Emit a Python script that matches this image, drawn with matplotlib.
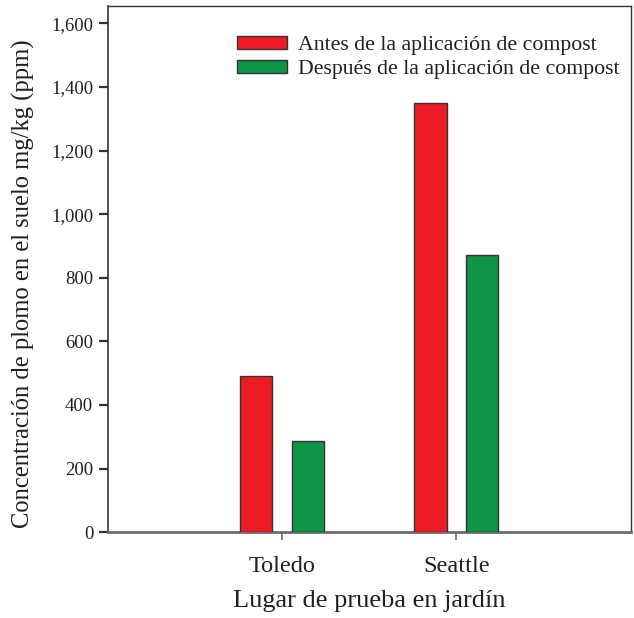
import numpy as np
import matplotlib
matplotlib.use("Agg")
import matplotlib.pyplot as plt

sites = ["Toledo", "Seattle"]
antes = [490, 1350]
despues = [285, 870]
series_labels = ["Antes de la aplicación de compost",
                 "Después de la aplicación de compost"]
y_ticks = [0, 200, 400, 600, 800, 1000, 1200, 1400, 1600]

RED = "#ED1C24"
GREEN = "#0F9448"
EDGE = "#333333"
AXIS_GREY = "#6b6b6b"
TEXT = "#231f20"

plt.rcParams["font.family"] = ["Liberation Serif", "DejaVu Serif"]

fig = plt.figure(figsize=(6.34, 6.18), dpi=100)
ax = fig.add_axes([0.170, 0.139, 0.825, 0.851])

x = np.arange(len(sites))
w = 0.184
off = 0.149
ax.bar(x - off, antes, w, color=RED, edgecolor=EDGE, linewidth=1.0,
       label=series_labels[0], zorder=3)
ax.bar(x + off, despues, w, color=GREEN, edgecolor=EDGE, linewidth=1.0,
       label=series_labels[1], zorder=3)

ax.set_xlim(-1, 2)
ax.set_ylim(0, 1654)
ax.set_xticks(x)
ax.set_xticklabels(sites, fontsize=17.5, color=TEXT)
ax.set_yticks(y_ticks)
ax.set_yticklabels([f"{v:,}" for v in y_ticks], fontsize=13.5, color=TEXT)

ax.tick_params(axis="y", direction="out", length=6.5, width=1.6, color="#333333", pad=4)
ax.tick_params(axis="x", direction="out", length=5.5, width=1.2, color=AXIS_GREY, pad=12)

for side in ["top", "right"]:
    ax.spines[side].set_color("#333333")
    ax.spines[side].set_linewidth(1.0)
ax.spines["left"].set_color("#333333")
ax.spines["left"].set_linewidth(1.2)
ax.spines["bottom"].set_color(AXIS_GREY)
ax.spines["bottom"].set_linewidth(2.0)

ax.set_xlabel("Lugar de prueba en jardín", fontsize=19, color=TEXT, labelpad=9)
ax.set_ylabel("Concentración de plomo en el suelo mg/kg (ppm)", fontsize=17.7,
              color=TEXT)
ax.yaxis.set_label_coords(-0.14, 0.473)

leg = ax.legend(loc="upper left", bbox_to_anchor=(0.247, 0.943), frameon=False,
                fontsize=15.7, handlelength=2.3, handleheight=0.55,
                handletextpad=0.5, labelspacing=0.2, borderpad=0,
                borderaxespad=0)
for t in leg.get_texts():
    t.set_color(TEXT)

fig.savefig("out.png", dpi=100)
